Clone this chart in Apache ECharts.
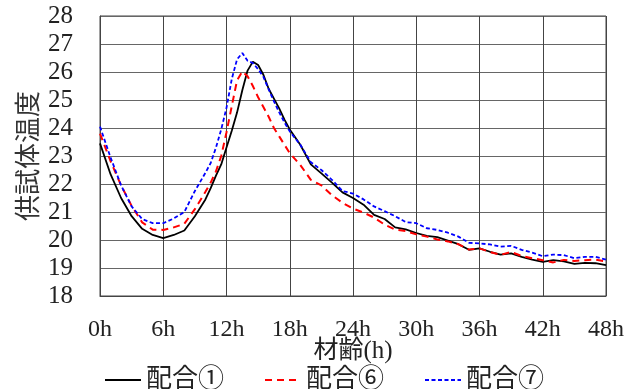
<!DOCTYPE html>
<html>
<head>
<meta charset="utf-8">
<script src="https://cdn.jsdelivr.net/npm/echarts@6/dist/echarts.min.js"></script>
<style>
  html, body { margin: 0; padding: 0; background: #fff; }
  #chart { width: 643px; height: 389px; }
</style>
</head>
<body>
<div id="chart"></div>
<script>
// 材齢 (h)
const hours = [0, 1, 2, 3, 4, 5, 6, 7, 8, 9, 10, 10.5, 11, 11.5, 12, 12.5, 13, 13.5, 14, 14.5,
  15, 15.5, 16, 16.5, 17, 17.5, 18, 19, 20, 21, 22, 23, 24, 25, 26, 27, 28, 29, 30, 31, 32,
  33, 34, 35, 36, 37, 38, 39, 40, 41, 42, 43, 44, 45, 46, 47, 48]

// 配合①
const mix1 = [23.45, 22.35, 21.5, 20.85, 20.4, 20.18, 20.07, 20.18, 20.34, 20.85, 21.45, 21.85,
  22.3, 22.7, 23.3, 23.9, 24.55, 25.35, 26.05, 26.37, 26.25, 25.9, 25.4, 25.05, 24.7, 24.3,
  23.95, 23.4, 22.7, 22.38, 22.05, 21.7, 21.5, 21.26, 20.9, 20.75, 20.45, 20.38, 20.25, 20.15,
  20.1, 19.98, 19.85, 19.65, 19.7, 19.58, 19.48, 19.52, 19.4, 19.3, 19.22, 19.28, 19.24, 19.15,
  19.18, 19.17, 19.1]

// 配合⑥
const mix6 = [23.8, 22.82, 21.95, 21.22, 20.63, 20.37, 20.36, 20.45, 20.58, 21.1, 21.72, 22.05,
  22.45, 23.0, 23.85, 24.78, 25.7, 26.02, 25.85, 25.5, 25.1, 24.75, 24.4, 24.0, 23.7, 23.4,
  23.1, 22.68, 22.15, 21.95, 21.6, 21.33, 21.12, 20.98, 20.8, 20.55, 20.37, 20.32, 20.2, 20.12,
  20.02, 19.95, 19.85, 19.66, 19.7, 19.57, 19.47, 19.57, 19.43, 19.35, 19.28, 19.2, 19.29, 19.25,
  19.28, 19.3, 19.23]

// 配合⑦
const mix7 = [24.05, 22.95, 21.95, 21.2, 20.75, 20.6, 20.6, 20.77, 21.0, 21.75, 22.4, 22.75,
  23.3, 23.95, 24.72, 25.75, 26.45, 26.68, 26.4, 26.32, 26.1, 25.83, 25.38, 24.95, 24.56, 24.2,
  23.88, 23.4, 22.78, 22.5, 22.15, 21.75, 21.66, 21.45, 21.2, 21.03, 20.85, 20.64, 20.6, 20.42,
  20.36, 20.26, 20.12, 19.9, 19.88, 19.84, 19.76, 19.79, 19.65, 19.55, 19.42, 19.48, 19.46, 19.35,
  19.4, 19.4, 19.3]

const seriesNames = ['配合①', '配合⑥', '配合⑦']

const font = '"Liberation Serif", "DejaVu Serif", "Noto Sans CJK JP", serif'

const pairs = (vals) => hours.map((h, i) => [h, vals[i]])

const chart = echarts.init(document.getElementById('chart'))

const option = {
  animation: false,
  grid: {
    left: 100,
    right: 37,
    top: 16,
    bottom: 93,
    show: true,
    borderColor: '#444',
    borderWidth: 1
  },
  legend: {
    left: 99,
    top: 362,
    itemWidth: 36,
    itemHeight: 10,
    itemGap: 40,
    itemStyle: { opacity: 0 },
    textStyle: { fontFamily: font, fontSize: 26, color: '#222' },
    data: seriesNames
  },
  xAxis: {
    type: 'value',
    min: 0,
    max: 48,
    interval: 6,
    name: '材齢(h)',
    nameLocation: 'middle',
    nameGap: 43,
    nameMoveOverlap: false,
    nameTextStyle: { fontFamily: font, fontSize: 25, color: '#222' },
    axisLine: { show: true, lineStyle: { color: '#444' } },
    axisTick: { show: false },
    axisLabel: {
      formatter: '{value}h',
      margin: 22,
      fontFamily: font,
      fontSize: 24,
      color: '#222'
    },
    splitLine: { show: true, lineStyle: { color: '#444', width: 1 } }
  },
  yAxis: {
    type: 'value',
    min: 18,
    max: 28,
    interval: 1,
    name: '供試体温度',
    nameLocation: 'middle',
    nameGap: 57,
    nameMoveOverlap: false,
    nameTextStyle: { fontFamily: font, fontSize: 26, color: '#333' },
    axisLine: { show: true, lineStyle: { color: '#444' } },
    axisTick: { show: false },
    axisLabel: {
      margin: 27,
      fontFamily: font,
      fontSize: 25,
      color: '#222'
    },
    splitLine: { show: true, lineStyle: { color: '#666', width: 1 } }
  },
  series: [
    {
      name: seriesNames[0],
      type: 'line',
      symbol: 'none',
      data: pairs(mix1),
      lineStyle: { color: '#000', width: 1.8 },
      itemStyle: { color: '#000' }
    },
    {
      name: seriesNames[1],
      type: 'line',
      symbol: 'none',
      data: pairs(mix6),
      lineStyle: { color: '#ff0000', width: 2, type: [7, 5] },
      itemStyle: { color: '#ff0000' }
    },
    {
      name: seriesNames[2],
      type: 'line',
      symbol: 'none',
      data: pairs(mix7),
      lineStyle: { color: '#0000ff', width: 1.8, type: [4, 2.5] },
      itemStyle: { color: '#0000ff' }
    }
  ]
}

chart.setOption(option)
</script>
</body>
</html>
